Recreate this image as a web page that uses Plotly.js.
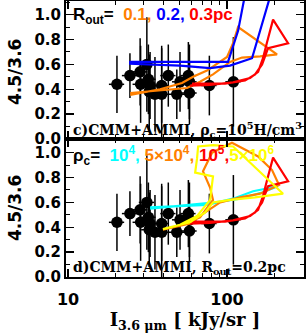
<!DOCTYPE html>
<html><head><meta charset="utf-8">
<script src="https://cdn.plot.ly/plotly-3.0.1.min.js"></script>
<style>html,body{margin:0;padding:0;background:#fff}#chart{width:307px;height:333px}</style>
</head><body><div id="chart"></div><script>
// Observed points (I_3.6 in kJy/sr, 4.5/3.6 ratio)
const obsI     = [20.3, 24.5, 28.4, 28.6, 31.3, 32.0, 32.8, 32.4, 35.2, 38.8, 38.8, 42.7, 48.3, 50.6, 57.1, 58.0, 58.0, 77.4, 109.6];
const obsRatio = [0.44, 0.51, 0.54, 0.44, 0.60, 0.48, 0.43, 0.38, 0.36, 0.36, 0.43, 0.51, 0.36, 0.46, 0.51, 0.46, 0.37, 0.43, 0.46];
const obsErr   = [0.23, 0.18, 0.27, 0.31, 0.38, 0.28, 0.27, 0.30, 0.30, 0.39, 0.30, 0.25, 0.20, 0.24, 0.27, 0.30, 0.25, 0.24, 0.36];

// Panel c: rho_c = 1e5, R_out = 0.1, 0.2, 0.3 pc
const c01I = [24.6, 37.9, 56.0, 67.6, 81.6, 104.4, 124.2, 161.4, 206.2, 117.3, 109.1, 100.0, 74.8, 61.1, 52.1, 37.9, 24.6];
const c01R = [0.37, 0.39, 0.41, 0.46, 0.52, 0.62, 0.655, 0.665, 0.68, 0.90, 0.77, 0.66, 0.55, 0.50, 0.45, 0.40, 0.355];
const c02I = [131.5, 117.3, 101.4, 24.6, 24.6, 50.6, 78.2, 104.4, 143.6, 191.9];
const c02R = [1.20, 0.87, 0.62, 0.62, 0.605, 0.59, 0.57, 0.59, 0.65, 1.20];
const c03I = [58.5, 78.2, 109.1, 139.6, 156.8, 168.3, 178.6, 194.7, 242.1, 181.2, 166.1, 150.1, 129.8, 97.1, 60.2];
const c03R = [0.43, 0.435, 0.455, 0.49, 0.54, 0.65, 0.78, 0.96, 0.77, 0.73, 0.60, 0.52, 0.47, 0.445, 0.445];

// Panel d: R_out = 0.2 pc, rho_c = 1e4, 5e4, 1e5, 5e6
const d1e4I = [32.8, 74.8, 109.1, 145.8, 209.2, 166.1, 120.8, 84.1, 32.8];
const d1e4R = [0.56, 0.58, 0.63, 0.69, 0.73, 0.68, 0.63, 0.60, 0.55];
const d5e4I = [39.5, 58.5, 72.8, 90.4, 120.8, 161.4, 212.3, 191.9, 156.8, 107.4, 80.5, 70.6, 78.2, 81.6, 67.6, 50.6, 40.7];
const d5e4R = [0.38, 0.43, 0.52, 0.60, 0.64, 0.67, 0.74, 0.86, 0.97, 1.08, 1.00, 0.85, 0.72, 0.62, 0.48, 0.41, 0.39];
const d1e5I = [58.5, 78.2, 109.1, 139.6, 156.8, 168.3, 178.6, 194.7, 242.1, 181.2, 166.1, 150.1, 129.8, 97.1, 60.2];
const d1e5R = [0.43, 0.435, 0.455, 0.49, 0.54, 0.65, 0.78, 0.96, 0.77, 0.73, 0.60, 0.52, 0.47, 0.445, 0.445];
const d5e6I = [39.5, 50.6, 64.7, 78.2, 81.6, 63.0, 64.7, 65.8, 81.6, 109.1, 225.0, 150.1, 104.4, 81.6, 72.8, 58.5, 40.7];
const d5e6R = [0.385, 0.42, 0.49, 0.62, 0.81, 0.84, 0.95, 1.05, 1.06, 1.05, 0.67, 0.64, 0.62, 0.60, 0.52, 0.44, 0.39];

const yTicks = [0.0, 0.2, 0.4, 0.6, 0.8, 1.0];
const xTicks = [10, 100];

const ORANGE = '#ff8000', BLUE = '#0000ff', RED = '#ff0000', CYAN = '#00ffff', YELLOW = '#ffff00';

function obsTrace(xa, ya) {
  return {x: obsI, y: obsRatio, xaxis: xa, yaxis: ya, type: 'scatter', mode: 'markers',
    marker: {color: '#000', size: 11.5},
    error_y: {type: 'data', array: obsErr, visible: true, color: '#000', thickness: 1.5, width: 0},
    error_x: {type: 'percent', value: 11, visible: true, color: '#000', thickness: 1.5, width: 0},
    showlegend: false, hoverinfo: 'skip'};
}
function line(x, y, color, xa, ya) {
  return {x: x, y: y, xaxis: xa, yaxis: ya, type: 'scatter', mode: 'lines',
    line: {color: color, width: 2.2}, showlegend: false, hoverinfo: 'skip'};
}

const data = [
  obsTrace('x2', 'y2'),
  line(c01I, c01R, ORANGE, 'x2', 'y2'),
  line(c02I, c02R, BLUE, 'x2', 'y2'),
  line(c03I, c03R, RED, 'x2', 'y2'),
  obsTrace('x', 'y'),
  line(d1e4I, d1e4R, CYAN, 'x', 'y'),
  line(d5e4I, d5e4R, ORANGE, 'x', 'y'),
  line(d1e5I, d1e5R, RED, 'x', 'y'),
  line(d5e6I, d5e6R, YELLOW, 'x', 'y'),
];

const tickFont = {family: 'DejaVu Sans', size: 15, color: '#000', weight: 700};
const xBase = {type: 'log', range: [0.987, 2.484], tickvals: xTicks, ticktext: xTicks.map(String),
  ticks: 'inside', ticklen: 8, tickwidth: 1.5, tickcolor: '#000', mirror: 'allticks',
  showline: true, linecolor: '#000', linewidth: 2, showgrid: false, zeroline: false,
  minor: {tickvals: [20,30,40,50,60,70,80,90,200], ticks: 'inside', ticklen: 4, tickcolor: '#000', tickwidth: 1},
  tickfont: {family: 'DejaVu Sans', size: 16, color: '#000', weight: 700}};
const yBase = {range: [0, 1.11], tickvals: yTicks, ticktext: yTicks.map(v => v.toFixed(1)),
  ticks: 'inside', ticklen: 8, tickwidth: 1.5, tickcolor: '#000', mirror: 'allticks',
  showline: true, linecolor: '#000', linewidth: 2, showgrid: false, zeroline: false,
  minor: {dtick: 0.1, ticks: 'inside', ticklen: 4, tickcolor: '#000', tickwidth: 1},
  tickfont: tickFont};

const serif = {family: 'DejaVu Serif', size: 14, color: '#000', weight: 700};
const sansL = {family: 'Liberation Sans', size: 17, color: '#000', weight: 700};

const layout = {
  width: 307, height: 333,
  margin: {l: 66, r: 3, t: 1, b: 56},
  paper_bgcolor: '#fff', plot_bgcolor: '#fff',
  xaxis: Object.assign({}, xBase, {anchor: 'y', domain: [0, 1], ticklabelstandoff: 7,
    title: {text: 'I<sub>3.6 μm</sub> [ kJy/sr ]', font: {family: 'DejaVu Serif', size: 18, color: '#000', weight: 700}, standoff: 8}}),
  yaxis: Object.assign({}, yBase, {anchor: 'x', domain: [0, 0.5]}),
  xaxis2: Object.assign({}, xBase, {anchor: 'y2', domain: [0, 1], matches: 'x', showticklabels: false}),
  yaxis2: Object.assign({}, yBase, {anchor: 'x2', domain: [0.5, 1]}),
  annotations: [
    {xref: 'paper', yref: 'paper', x: 0.02, y: 0.9457, xanchor: 'left', yanchor: 'middle', showarrow: false, font: sansL,
     text: 'R<sub>out</sub>=  <span style="color:' + ORANGE + '">0.1,</span> <span style="color:' + BLUE + '">0.2,</span> <span style="color:' + RED + '">0.3pc</span>'},
    {xref: 'paper', yref: 'paper', x: 0.02, y: 0.5326, xanchor: 'left', yanchor: 'middle', showarrow: false, font: serif,
     text: 'c)CMM+AMMI, ρ<sub>c</sub>=10<sup>5</sup>H/cm<sup>3</sup>'},
    {xref: 'paper', yref: 'paper', x: 0.02, y: 0.442, xanchor: 'left', yanchor: 'middle', showarrow: false, font: sansL,
     text: 'ρ<sub>c</sub>=  <span style="color:' + CYAN + '">10<sup>4</sup>,</span> <span style="color:' + ORANGE + '">5×10<sup>4</sup>,</span> <span style="color:' + RED + '">10<sup>5</sup>,</span><span style="color:' + YELLOW + '">5×10<sup>6</sup></span>'},
    {xref: 'paper', yref: 'paper', x: 0.02, y: 0.0326, xanchor: 'left', yanchor: 'middle', showarrow: false, font: serif,
     text: 'd)CMM+AMMI, R<sub>out</sub>=0.2pc'},
    {xref: 'paper', yref: 'paper', x: -0.214, y: 0.743, xanchor: 'center', yanchor: 'middle', showarrow: false, textangle: -90,
     font: {family: 'DejaVu Sans', size: 17, color: '#000', weight: 700}, text: '4.5/3.6'},
    {xref: 'paper', yref: 'paper', x: -0.214, y: 0.25, xanchor: 'center', yanchor: 'middle', showarrow: false, textangle: -90,
     font: {family: 'DejaVu Sans', size: 17, color: '#000', weight: 700}, text: '4.5/3.6'}
  ]
};

Plotly.newPlot('chart', data, layout, {displayModeBar: false, staticPlot: true});
</script></body></html>
